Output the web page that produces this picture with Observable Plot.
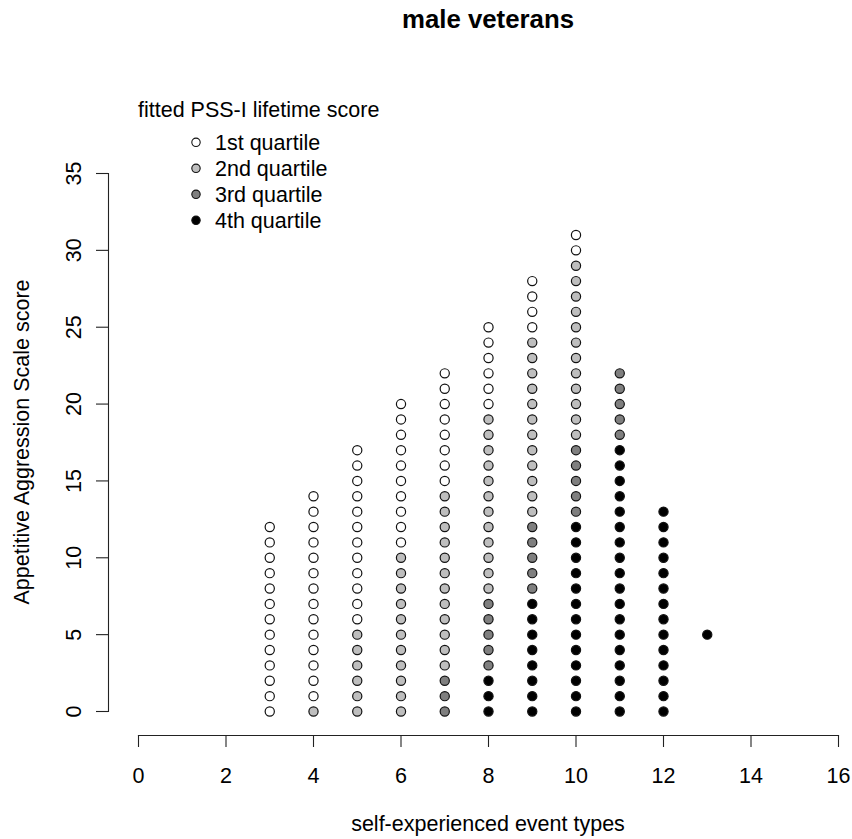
<!DOCTYPE html>
<html>
<head>
<meta charset="utf-8">
<script src="https://cdn.jsdelivr.net/npm/d3@7"></script>
<script src="https://cdn.jsdelivr.net/npm/@observablehq/plot@0.6"></script>
<style>
  html, body { margin: 0; padding: 0; background: #fff; }
  #wrap { position: relative; width: 852px; height: 839px; overflow: hidden; }
  #overlay { position: absolute; left: 0; top: 0; pointer-events: none; }
  text { font-family: "Liberation Sans", Arial, Helvetica, sans-serif; }
</style>
</head>
<body>
<div id="wrap"></div>
<script>
// ---- data ----
const eventTypes = [3, 4, 5, 6, 7, 8, 9, 10, 11, 12, 13];
const quartileLabels = ["1st quartile", "2nd quartile", "3rd quartile", "4th quartile"];
const quartileFills = ["#ffffff", "#bebebe", "#7f7f7f", "#000000"];
const xTicks = [0, 2, 4, 6, 8, 10, 12, 14, 16];
const yTicks = [0, 5, 10, 15, 20, 25, 30, 35];

// scores observed per event-type column (same order as eventTypes)
const firstQuartile = [
  [0,1,2,3,4,5,6,7,8,9,10,11,12],
  [1,2,3,4,5,6,7,8,9,10,11,12,13,14],
  [6,7,8,9,10,11,12,13,14,15,16,17],
  [11,12,13,14,15,16,17,18,19,20],
  [15,16,17,18,19,20,21,22],
  [20,21,22,23,24,25],
  [25,26,27,28],
  [30,31],
  [], [], []
];
const secondQuartile = [
  [],
  [0],
  [0,1,2,3,4,5],
  [0,1,2,3,4,5,6,7,8,9,10],
  [3,4,5,6,7,8,9,10,11,12,13,14],
  [8,9,10,11,12,13,14,15,16,17,18,19],
  [13,14,15,16,17,18,19,20,21,22,23,24],
  [18,19,20,21,22,23,24,25,26,27,28,29],
  [], [], []
];
const thirdQuartile = [
  [], [], [], [],
  [0,1,2],
  [3,4,5,6,7],
  [8,9,10,11,12],
  [13,14,15,16,17],
  [18,19,20,21,22],
  [], []
];
const fourthQuartile = [
  [], [], [], [], [],
  [0,1,2],
  [0,1,2,3,4,5,6,7],
  [0,1,2,3,4,5,6,7,8,9,10,11,12],
  [0,1,2,3,4,5,6,7,8,9,10,11,12,13,14,15,16,17],
  [0,1,2,3,4,5,6,7,8,9,10,11,12,13],
  [5]
];

const groups = [firstQuartile, secondQuartile, thirdQuartile, fourthQuartile];
const points = [];
groups.forEach((cols, qi) => {
  cols.forEach((scores, ci) => {
    scores.forEach(s => points.push({events: eventTypes[ci], score: s, quartile: quartileLabels[qi]}));
  });
});

const FONT = '"Liberation Sans", Arial, Helvetica, sans-serif';

const chart = Plot.plot({
  width: 852,
  height: 839,
  marginLeft: 108,
  marginRight: 14,
  marginTop: 173,
  marginBottom: 104,
  x: {domain: [0, 16], range: [138, 838]},
  y: {domain: [0, 35], range: [711, 173]},
  color: {domain: quartileLabels, range: quartileFills},
  style: {fontFamily: FONT, fontSize: "21.5px", color: "#000", background: "#fff", overflow: "visible"},
  marks: [
    Plot.frame({anchor: "bottom", insetLeft: 30, stroke: "#222", strokeWidth: 1.1}),
    Plot.frame({anchor: "left", insetBottom: 24, stroke: "#222", strokeWidth: 1.1}),
    Plot.axisX({ticks: xTicks, tickSize: 12, tickPadding: 20, label: null, fontSize: 21.5, stroke: "#222", strokeWidth: 1.1, fill: "#000"}),
    Plot.axisY({ticks: yTicks, tickSize: 12, tickPadding: 16, tickRotate: -90, label: null, fontSize: 21.5, stroke: "#222", strokeWidth: 1.1, fill: "#000"}),
    Plot.dot(points, {x: "events", y: "score", fill: "quartile", stroke: "#111", strokeWidth: 1.2, r: 4.6})
  ]
});

const wrap = document.getElementById("wrap");
wrap.appendChild(chart);

// ---- overlay: title, axis titles, legend ----
const ns = "http://www.w3.org/2000/svg";
const ov = d3.select(wrap).append("svg")
  .attr("id", "overlay").attr("width", 852).attr("height", 839)
  .attr("xmlns", ns);

ov.append("text").attr("x", 488).attr("y", 28).attr("text-anchor", "middle")
  .attr("font-weight", "bold").attr("font-size", 25.8).text("male veterans");

ov.append("text").attr("x", 488).attr("y", 831).attr("text-anchor", "middle")
  .attr("font-size", 21.5).text("self-experienced event types");

ov.append("text").attr("transform", "translate(29,442) rotate(-90)").attr("text-anchor", "middle")
  .attr("font-size", 21.5).text("Appetitive Aggression Scale score");

ov.append("text").attr("x", 138).attr("y", 116.5).attr("font-size", 21.5).text("fitted PSS-I lifetime score");

const lg = ov.selectAll("g.lg").data(quartileLabels).join("g").attr("class", "lg")
  .attr("transform", (d, i) => `translate(196,${142.3 + i * 26})`);
lg.append("circle").attr("r", 4.2).attr("fill", (d, i) => quartileFills[i]).attr("stroke", "#111").attr("stroke-width", 1.1);
lg.append("text").attr("x", 19).attr("y", 7.6).attr("font-size", 21.5).text(d => d);
</script>
</body>
</html>
